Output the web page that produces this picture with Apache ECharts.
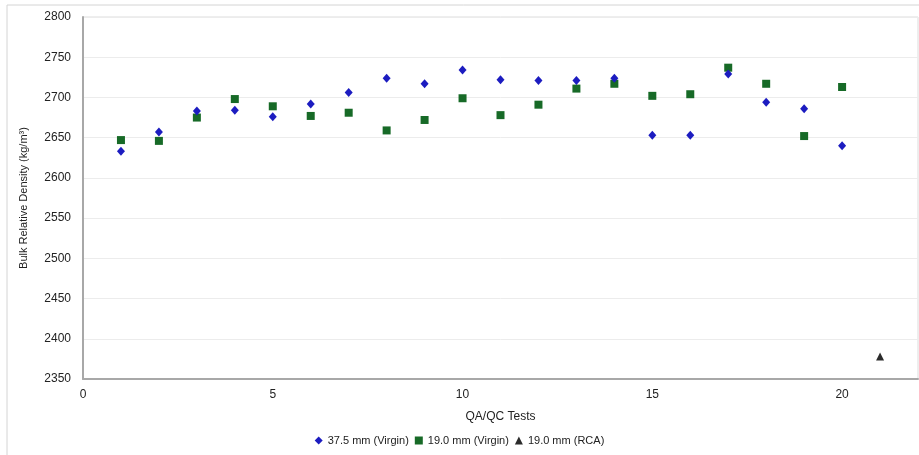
<!DOCTYPE html>
<html>
<head>
<meta charset="utf-8">
<script src="https://cdn.jsdelivr.net/npm/echarts@6/dist/echarts.min.js"></script>
<style>
    html, body { margin: 0; padding: 0; background: #fff; }
    #chart { width: 919px; height: 455px; }
</style>
</head>
<body>
<div id="chart"></div>
<script>
// 试验序号
var tests = [1, 2, 3, 4, 5, 6, 7, 8, 9, 10, 11, 12, 13, 14, 15, 16, 17, 18, 19, 20];
// 37.5 mm 原生骨料
var virgin375 = [2633, 2657, 2683, 2684, 2676, 2692, 2706, 2724, 2717, 2734,
    2722, 2721, 2721, 2724, 2653, 2653, 2729, 2694, 2686, 2640];
// 19.0 mm 原生骨料
var virgin190 = [2647, 2646, 2675, 2698, 2689, 2677, 2681, 2659, 2672, 2699,
    2678, 2691, 2711, 2717, 2702, 2704, 2737, 2717, 2652, 2713];
// 19.0 mm 再生骨料
var rcaTests = [21];
var rca190 = [2378];

var seriesNames = ['37.5 mm (Virgin)', '19.0 mm (Virgin)', '19.0 mm (RCA)'];

function pairs(xs, ys) {
    var out = [];
    for (var i = 0; i < xs.length; i++) {
        out.push([xs[i], ys[i]]);
    }
    return out;
}

var font = 'Liberation Sans, Arial, sans-serif';
var myChart = echarts.init(document.getElementById('chart'));

var option = {
    backgroundColor: '#fff',
    animation: false,
    textStyle: { fontFamily: font },
    graphic: [
        {
            type: 'rect',
            shape: { x: 7, y: 5, width: 930, height: 470 },
            style: { fill: 'none', stroke: '#d4d4d4', lineWidth: 1 },
            silent: true
        }
    ],
    grid: {
        left: 83,
        right: 1,
        top: 17,
        bottom: 76,
        show: true,
        borderColor: '#dcdcdc',
        borderWidth: 1
    },
    legend: {
        bottom: 4,
        left: 'center',
        itemWidth: 8,
        itemHeight: 8,
        itemGap: 6,
        textStyle: { fontSize: 11, color: '#222', fontFamily: font },
        data: [
            { name: seriesNames[0], icon: 'diamond' },
            { name: seriesNames[1], icon: 'rect' },
            { name: seriesNames[2], icon: 'triangle' }
        ]
    },
    xAxis: {
        type: 'value',
        min: 0,
        max: 22,
        interval: 5,
        name: 'QA/QC Tests',
        nameLocation: 'middle',
        nameGap: 32,
        nameTextStyle: { fontSize: 12, color: '#222', fontFamily: font },
        axisLine: { show: true, lineStyle: { color: '#a8a8a8', width: 2 } },
        axisTick: { show: false },
        axisLabel: { fontSize: 12, color: '#222', margin: 10, showMaxLabel: false },
        splitLine: { show: false }
    },
    yAxis: {
        type: 'value',
        min: 2350,
        max: 2800,
        interval: 50,
        name: 'Bulk Relative Density (kg/m³)',
        nameLocation: 'middle',
        nameGap: 54,
        nameTextStyle: { fontSize: 11, color: '#222', fontFamily: font },
        axisLine: { show: true, lineStyle: { color: '#a8a8a8', width: 2 } },
        axisTick: { show: false },
        axisLabel: {
            fontSize: 12,
            color: '#222',
            margin: 12,
            formatter: function (value) {
                return String(value);
            }
        },
        splitLine: { show: true, lineStyle: { color: '#ececec', width: 1 } }
    },
    series: [
        {
            name: seriesNames[0],
            type: 'scatter',
            symbol: 'diamond',
            symbolSize: [8, 9],
            itemStyle: { color: '#1c1cc0', opacity: 1 },
            data: pairs(tests, virgin375),
            z: 3
        },
        {
            name: seriesNames[1],
            type: 'scatter',
            symbol: 'rect',
            symbolSize: 8,
            itemStyle: { color: '#176a27', opacity: 1 },
            data: pairs(tests, virgin190),
            z: 2
        },
        {
            name: seriesNames[2],
            type: 'scatter',
            symbol: 'triangle',
            symbolSize: 8,
            itemStyle: { color: '#2b2b2b', opacity: 1 },
            data: pairs(rcaTests, rca190)
        }
    ]
};

myChart.setOption(option);
</script>
</body>
</html>
